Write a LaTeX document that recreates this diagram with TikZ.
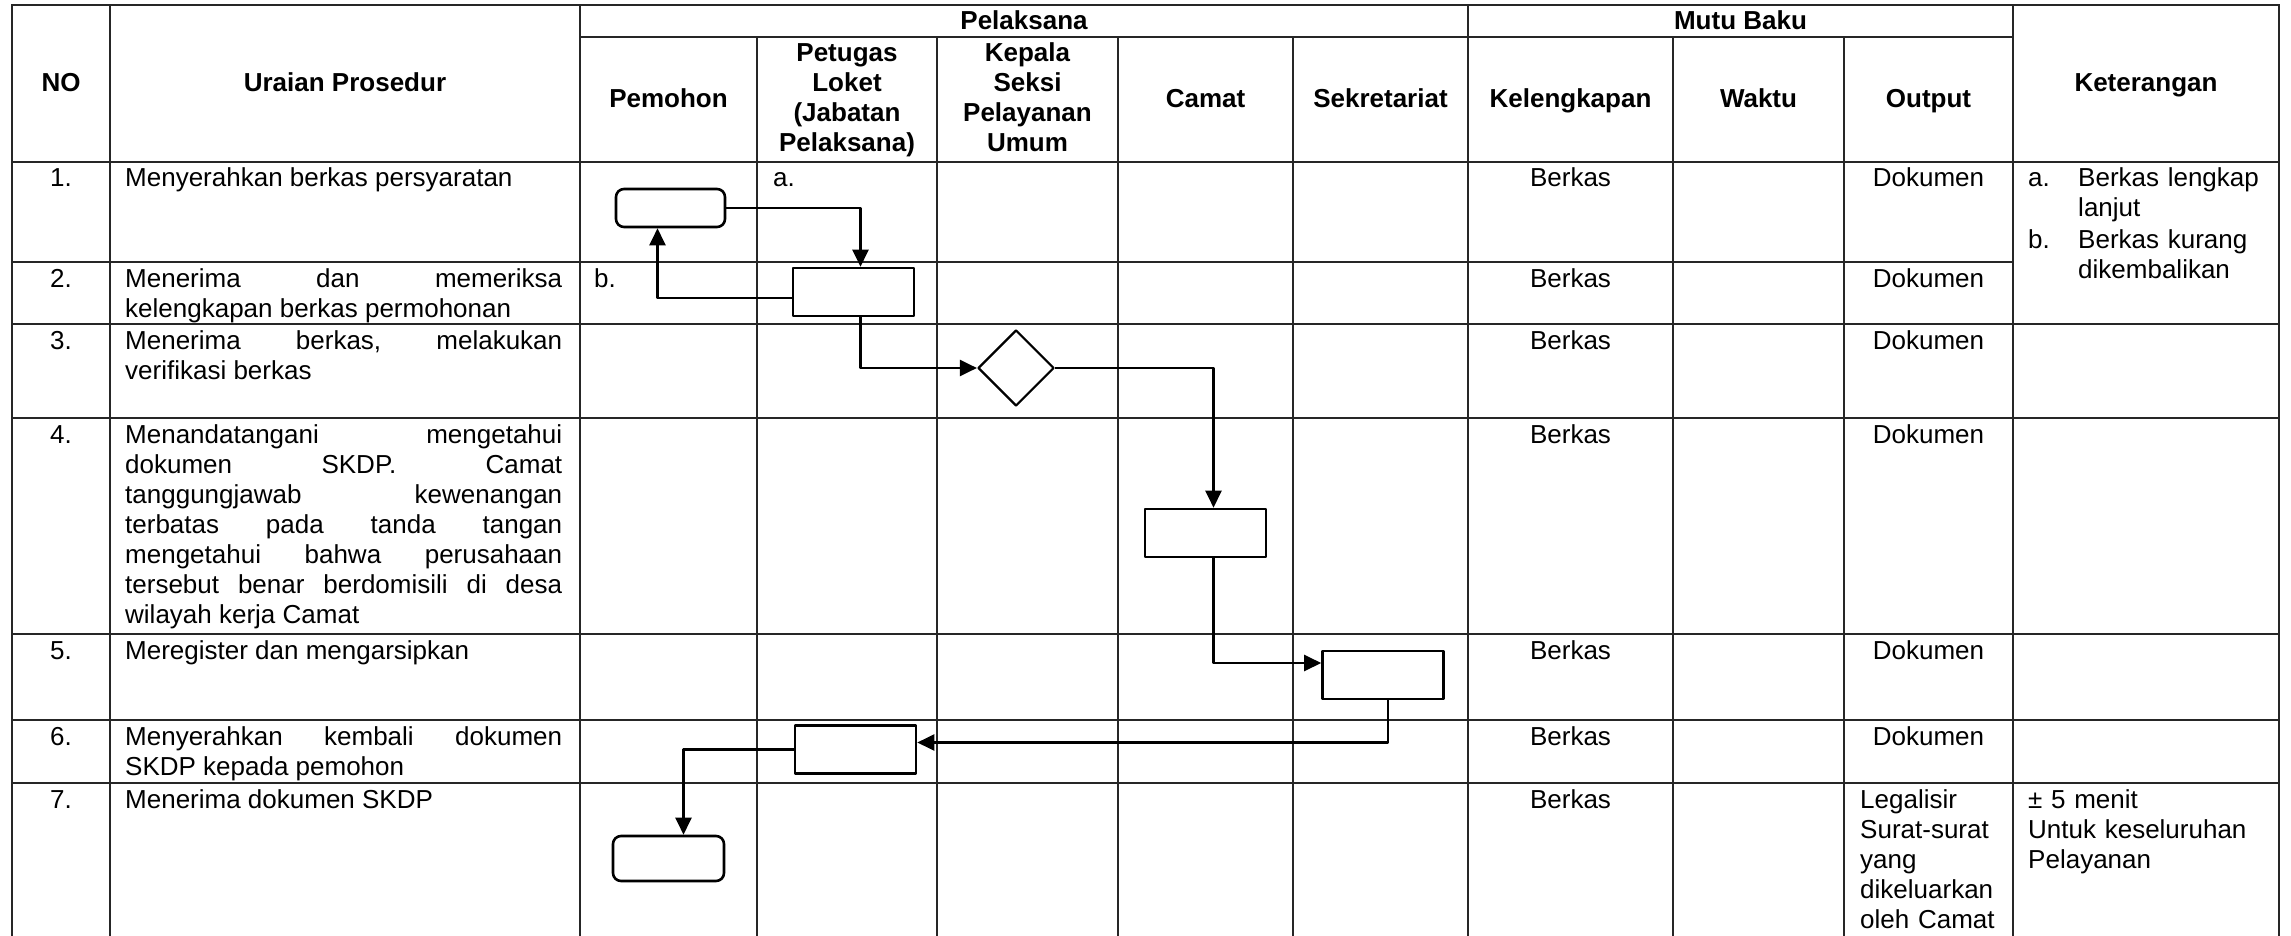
\documentclass[tikz,border=0pt]{standalone}
\usepackage{fontspec}
\setmainfont{Liberation Sans}
\usetikzlibrary{arrows.meta, shapes.geometric}
\hyphenpenalty=10000
\exhyphenpenalty=10000
\tolerance=9999
\frenchspacing

\tikzset{
  tabline/.style={line width=1.2pt, black!85, line cap=rect},
  box/.style={draw, line width=2.6pt, minimum width=121pt, minimum height=48pt, inner sep=0pt},
  term/.style={box, rounded corners=8pt},
  decide/.style={draw, diamond, line width=2.2pt, minimum width=76pt, minimum height=76pt, inner sep=0pt},
  flow/.style={line width=2.2pt, -{Triangle[length=17pt, width=16pt]}},
  head/.style={font=\fontsize{26}{30}\selectfont\bfseries, inner sep=0pt, anchor=base},
  headlist/.style={head, text width=170pt, align=center},
  ctr/.style={font=\fontsize{26}{30}\selectfont, inner sep=0pt, anchor=base},
  txt/.style={font=\fontsize{26}{30}\selectfont, inner sep=0pt, anchor=base west},
  prosedur/.style={txt, text width=437pt, align=justify},
}

\begin{document}
\begin{tikzpicture}[x=1pt, y=-1pt, line join=round]
  \useasboundingbox (0,0) rectangle (2291,936);

  % garis tabel
  \foreach \x in {12,110,580,1468,2013,2279}
    \draw[tabline] (\x,5) -- (\x,936);
  \foreach \x in {757,937,1118,1293,1673,1844}
    \draw[tabline] (\x,37) -- (\x,936);
  \draw[tabline] (12,5) -- (2279,5);
  \draw[tabline] (580,37) -- (2013,37);
  \foreach \y in {162,324,418,634,720,783}
    \draw[tabline] (12,\y) -- (2279,\y);
  \draw[tabline] (12,262) -- (2013,262);

  % kepala tabel
  \node[head] (hno) at (61,92) {NO};
  \node[head] (hur) at (345,92) {Uraian Prosedur};
  \node[head] (hpel) at (1024,30) {Pelaksana};
  \node[head] (hmutu) at (1740.5,30) {Mutu Baku};
  \node[head] (hket) at (2146,92) {Keterangan};
  \node[head] (hpem) at (668.5,108) {Pemohon};
  \node[headlist] (hlok) at (847,62) {Petugas\\Loket\\(Jabatan\\Pelaksana)};
  \node[headlist] (hkep) at (1027.5,62) {Kepala\\Seksi\\Pelayanan\\Umum};
  \node[head] (hcam) at (1205.5,108) {Camat};
  \node[head] (hsek) at (1380.5,108) {Sekretariat};
  \node[head] (hkel) at (1570.5,108) {Kelengkapan};
  \node[head] (hwak) at (1758.5,108) {Waktu};
  \node[head] (hout) at (1928.5,108) {Output};

  % nomor, kelengkapan, output
  \foreach \n/\y in {1/187,2/287,3/349,4/443,5/659,6/745,7/808} {
    \node[ctr] (no\n) at (61,\y) {\n.};
    \node[ctr] (berkas\n) at (1570.5,\y) {Berkas};
  }
  \foreach \n/\y in {1/187,2/287,3/349,4/443,5/659,6/745}
    \node[ctr] (dok\n) at (1928.5,\y) {Dokumen};

  % uraian prosedur
  \node[prosedur] (u1) at (125,187) {Menyerahkan berkas persyaratan};
  \node[prosedur] (u2) at (125,287) {Menerima dan memeriksa\linebreak kelengkapan berkas permohonan};
  \node[prosedur] (u3) at (125,349) {Menerima berkas, melakukan\linebreak verifikasi berkas};
  \node[prosedur] (u4) at (125,443) {Menandatangani mengetahui\linebreak dokumen SKDP. Camat\linebreak
    tanggungjawab kewenangan\linebreak terbatas pada tanda tangan\linebreak mengetahui bahwa perusahaan\linebreak
    tersebut benar berdomisili di desa\linebreak wilayah kerja Camat};
  \node[prosedur] (u5) at (125,659) {Meregister dan mengarsipkan};
  \node[prosedur] (u6) at (125,745) {Menyerahkan kembali dokumen\linebreak SKDP kepada pemohon};
  \node[prosedur] (u7) at (125,808) {Menerima dokumen SKDP};
  \node[txt, text width=150pt, align=left] (out7) at (1860,808) {Legalisir\\Surat-surat\\yang\\dikeluarkan\\oleh Camat};

  % keterangan
  \node[txt] (ka) at (2028,187) {a.};
  \node[txt, text width=200pt, align=left] (kat) at (2078,187) {Berkas lengkap\\lanjut};
  \node[txt] (kb) at (2028,248) {b.};
  \node[txt, text width=200pt, align=left] (kbt) at (2078,248) {Berkas kurang\\dikembalikan};
  \node[txt, text width=240pt, align=left] (ket7) at (2028,808) {± 5 menit\\Untuk keseluruhan\\Pelayanan};

  % label cabang
  \node[txt] (la) at (773,187) {a.};
  \node[txt] (lb) at (594,287) {b.};

  % bagan alir
  \node[term, minimum width=109pt, minimum height=38pt] (t1) at (670.5,208) {};
  \node[box] (p2) at (853.5,292) {};
  \node[decide] (d3) at (1016,368) {};
  \node[box] (p4) at (1205.5,533) {};
  \node[box] (p5) at (1383,675) {};
  \node[box] (p6) at (855.5,749.5) {};
  \node[term, minimum width=111pt, minimum height=45pt] (t7) at (668.5,858.5) {};

  \draw[flow] (t1.east) -| ([xshift=7pt]p2.north);
  \draw[flow] ([yshift=-6pt]p2.west) -| ([xshift=-13pt]t1.south);
  \draw[flow] ([xshift=7pt]p2.south) |- (d3.west);
  \draw[flow] (d3.east) -| ([xshift=8pt]p4.north);
  \draw[flow] ([xshift=8pt]p4.south) |- ([yshift=12pt]p5.west);
  \draw[flow] ([xshift=5pt]p5.south) |- ([yshift=7pt]p6.east);
  \draw[flow] (p6.west) -| ([xshift=15pt]t7.north);
\end{tikzpicture}
\end{document}
